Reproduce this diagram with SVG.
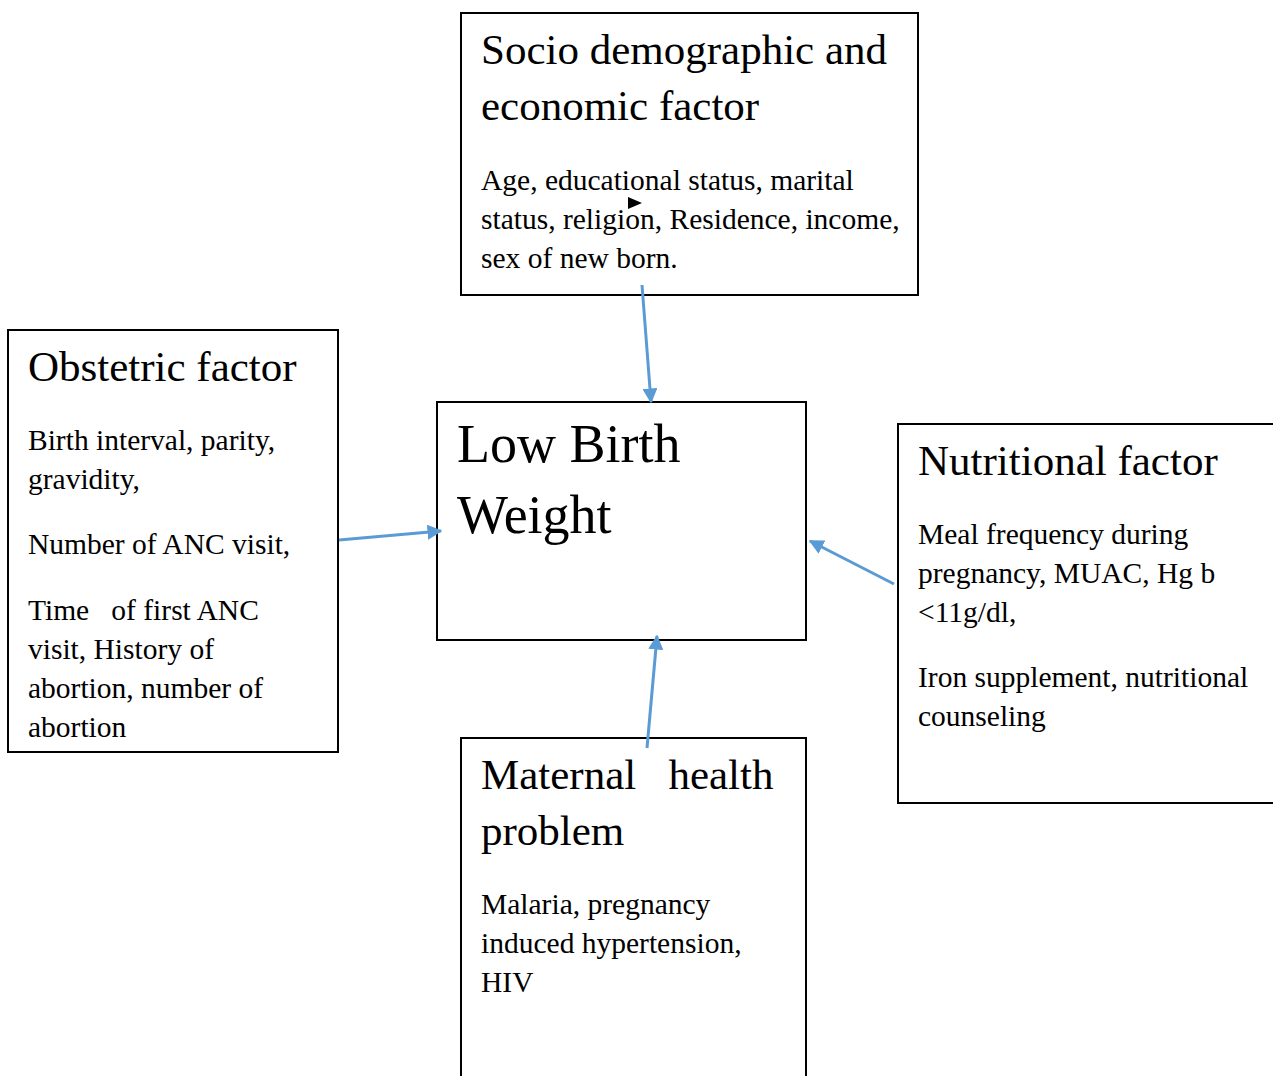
<svg xmlns="http://www.w3.org/2000/svg" width="1273" height="1076" viewBox="0 0 1273 1076">
<defs>
<style>
.box{fill:#fff;stroke:#000;stroke-width:2}
.t{font-family:"Liberation Serif","Times New Roman",serif;fill:#000}
.h{font-size:43px}
.b{font-size:29.5px}
.big{font-size:54px}
.c{stroke:#5b9bd5;stroke-width:3;fill:none;marker-end:url(#ah)}
</style>
<marker id="ah" viewBox="0 0 10 10" refX="9" refY="5" markerWidth="5" markerHeight="5" orient="auto" markerUnits="strokeWidth">
<path d="M0,0 L10,5 L0,10 z" fill="#5b9bd5"/>
</marker>
</defs>
<rect width="1273" height="1076" fill="#fff"/>
<g id="socio">
<rect class="box" x="461" y="13" width="457" height="282"/>
<text class="t h" x="481" y="64">Socio demographic and</text>
<text class="t h" x="481" y="120">economic factor</text>
<text class="t b" x="481" y="190">Age, educational status, marital</text>
<text class="t b" x="481" y="229">status, religion, Residence, income,</text>
<text class="t b" x="481" y="268">sex of new born.</text>
<polygon points="628,197 642,203 628,209" fill="#000"/>
</g>
<g id="obstetric">
<rect class="box" x="8" y="330" width="330" height="422"/>
<text class="t h" x="28" y="381">Obstetric factor</text>
<text class="t b" x="28" y="450">Birth interval, parity,</text>
<text class="t b" x="28" y="489">gravidity,</text>
<text class="t b" x="28" y="554">Number of ANC visit,</text>
<text class="t b" x="28" y="620" xml:space="preserve">Time   of first ANC</text>
<text class="t b" x="28" y="659">visit, History of</text>
<text class="t b" x="28" y="698">abortion, number of</text>
<text class="t b" x="28" y="737">abortion</text>
</g>
<g id="lbw">
<rect class="box" x="437" y="402" width="369" height="238"/>
<text class="t big" x="457" y="462">Low Birth</text>
<text class="t big" x="457" y="533">Weight</text>
</g>
<g id="nutritional">
<rect class="box" x="898" y="424" width="390" height="379"/>
<text class="t h" x="918" y="475">Nutritional factor</text>
<text class="t b" x="918" y="544">Meal frequency during</text>
<text class="t b" x="918" y="583">pregnancy, MUAC, Hg b</text>
<text class="t b" x="918" y="622">&lt;11g/dl,</text>
<text class="t b" x="918" y="687">Iron supplement, nutritional</text>
<text class="t b" x="918" y="726">counseling</text>
</g>
<g id="maternal">
<rect class="box" x="461" y="738" width="345" height="350"/>
<text class="t h" x="481" y="789" xml:space="preserve">Maternal   health</text>
<text class="t h" x="481" y="845">problem</text>
<text class="t b" x="481" y="914">Malaria, pregnancy</text>
<text class="t b" x="481" y="953">induced hypertension,</text>
<text class="t b" x="481" y="992">HIV</text>
</g>
<g id="connectors">
<line class="c" x1="642" y1="285" x2="651" y2="402"/>
<line class="c" x1="339" y1="540" x2="441" y2="531"/>
<line class="c" x1="894" y1="584" x2="810" y2="541"/>
<line class="c" x1="647" y1="748" x2="657" y2="636"/>
</g>
</svg>
